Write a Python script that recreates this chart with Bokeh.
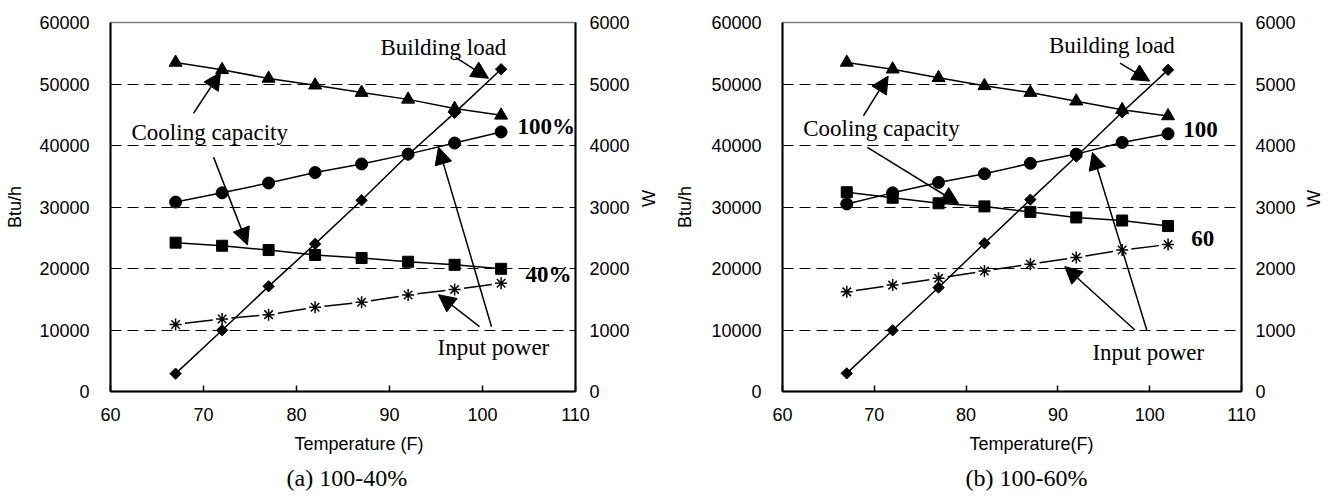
import numpy as np
from bokeh.plotting import figure
from bokeh.layouts import row
from bokeh.models import LinearAxis, Range1d, FixedTicker, Label, Arrow, NormalHead, Title
from bokeh.embed import file_html
from bokeh.resources import INLINE

# ---------------- data ----------------
temps = [67, 72, 77, 82, 87, 92, 97, 102]

# panel (a) 100-40%
cap100_a = [53500, 52300, 50900, 49800, 48600, 47500, 46000, 44900]   # Btu/h, triangles
pow100_a = [3080, 3230, 3390, 3560, 3700, 3860, 4040, 4220]           # W, circles
load_a = [2900, 9950, 17100, 24000, 31100, 38500, 45300, 52400]       # Btu/h, diamonds
cap40_a = [24200, 23700, 23000, 22200, 21700, 21100, 20600, 19950]    # Btu/h, squares
pow40_a = [1090, 1180, 1250, 1370, 1450, 1570, 1660, 1760]            # W, asterisks

# panel (b) 100-60%
cap100_b = [53500, 52400, 51000, 49700, 48600, 47200, 45800, 44800]
pow100_b = [3050, 3230, 3400, 3540, 3710, 3860, 4050, 4190]
load_b = [2950, 9950, 16900, 24100, 31200, 38200, 45400, 52300]
cap60_b = [32400, 31500, 30600, 30100, 29200, 28300, 27800, 26900]
pow60_b = [1620, 1730, 1840, 1960, 2070, 2180, 2300, 2390]

x_ticks = [60, 70, 80, 90, 100, 110]
btu_ticks = [0, 10000, 20000, 30000, 40000, 50000, 60000]
w_ticks = [0, 1000, 2000, 3000, 4000, 5000, 6000]
grid_ticks = [10000, 20000, 30000, 40000, 50000]

SANS = "Liberation Sans"
SERIF = "Liberation Serif"

panels = [
    dict(
        width=672, border_left=110, border_top=22, frame_h=370,
        ylab_standoff=11, wlab_standoff=16,
        cap_full=cap100_a, pow_full=pow100_a, load=load_a, cap_part=cap40_a, pow_part=pow40_a,
        xlabel="Temperature (F)", xlabel_offset=184,
        caption="(a) 100-40%", caption_offset=176,
        texts=[("Cooling capacity", 62.26, 42160, "normal"),
               ("Building load", 89.03, 55950, "normal"),
               ("100%", 103.76, 43130, "bold"),
               ("40%", 104.62, 18970, "bold"),
               ("Input power", 95.16, 7135, "normal")],
        arrows=[(68.93, 45240, 71.83, 51890),
                (71.08, 38110, 74.73, 23840),
                (97.10, 54320, 100.65, 50920),
                (100.97, 10540, 95.27, 39730),
                (99.68, 10540, 95.27, 15730)],
    ),
    dict(
        width=665, border_left=104, border_top=19, frame_h=372,
        ylab_standoff=13, wlab_standoff=15,
        cap_full=cap100_b, pow_full=pow100_b, load=load_b, cap_part=cap60_b, pow_part=pow60_b,
        xlabel="Temperature(F)", xlabel_offset=187,
        caption="(b) 100-60%", caption_offset=183,
        texts=[("Cooling capacity", 62.26, 42740, "normal"),
               ("Building load", 89.03, 56290, "normal"),
               ("100", 103.66, 42580, "bold"),
               ("60", 104.52, 24840, "bold"),
               ("Input power", 93.76, 6290, "normal")],
        arrows=[(68.82, 44840, 71.51, 51290),
                (69.25, 39680, 79.20, 30530),
                (96.77, 53390, 100.0, 50480),
                (99.68, 10000, 93.76, 38870),
                (98.39, 10000, 90.75, 20320)],
    ),
]

FIG_H = 497
FRAME_W = 465


def make_panel(cfg):
    border_bottom = FIG_H - cfg["border_top"] - cfg["frame_h"]
    border_right = cfg["width"] - cfg["border_left"] - FRAME_W
    p = figure(width=cfg["width"], height=FIG_H, output_backend="svg", toolbar_location=None,
               x_range=Range1d(60, 110), y_range=Range1d(0, 60000),
               min_border_left=cfg["border_left"], min_border_right=border_right,
               min_border_top=cfg["border_top"], min_border_bottom=border_bottom,
               background_fill_color="white", border_fill_color="white")
    p.extra_y_ranges = {"w": Range1d(0, 6000)}
    p.outline_line_color = "#808080"
    p.outline_line_width = 1.5

    # axes
    p.xaxis.ticker = FixedTicker(ticks=x_ticks)
    p.xaxis.major_tick_in = 6
    p.xaxis.major_tick_out = 0
    p.xaxis.minor_tick_line_color = None
    p.xaxis.major_label_standoff = 16
    p.yaxis.ticker = FixedTicker(ticks=btu_ticks)
    p.yaxis.major_tick_in = 0
    p.yaxis.major_tick_out = 0
    p.yaxis.minor_tick_line_color = None
    p.yaxis.major_label_standoff = 21
    p.yaxis.axis_label = "Btu/h"
    p.yaxis.axis_label_standoff = cfg["ylab_standoff"]
    p.yaxis.formatter.use_scientific = False

    wax = LinearAxis(y_range_name="w", ticker=FixedTicker(ticks=w_ticks), axis_label="W")
    wax.major_tick_in = 0
    wax.major_tick_out = 0
    wax.minor_tick_line_color = None
    wax.major_label_standoff = 14
    wax.axis_label_standoff = cfg["wlab_standoff"]
    wax.axis_label_orientation = np.pi / 2
    p.add_layout(wax, "right")

    for ax in list(p.xaxis) + list(p.yaxis) + [wax]:
        ax.axis_line_color = "black"
        ax.axis_line_width = 2
        ax.major_tick_line_color = "black"
        ax.major_tick_line_width = 1.5
        ax.major_label_text_font = SANS
        ax.major_label_text_font_size = "18px"
        ax.major_label_text_color = "black"
        ax.axis_label_text_font = SANS
        ax.axis_label_text_font_size = "18px"
        ax.axis_label_text_font_style = "normal"
        ax.axis_label_text_color = "black"

    # x-axis label and caption below the plot
    p.add_layout(Title(text=cfg["xlabel"], align="left", offset=cfg["xlabel_offset"],
                       vertical_align="middle", standoff=18, text_font=SANS,
                       text_font_size="18px", text_font_style="normal", text_color="black"),
                 "below")
    p.add_layout(Title(text=cfg["caption"], align="left", offset=cfg["caption_offset"],
                       vertical_align="middle", standoff=0, text_font=SERIF,
                       text_font_size="24px", text_font_style="normal", text_color="black"),
                 "below")

    # grid
    p.xgrid.visible = False
    p.ygrid.ticker = FixedTicker(ticks=grid_ticks)
    p.ygrid.grid_line_color = "black"
    p.ygrid.grid_line_width = 1
    p.ygrid.grid_line_dash = "11 6"

    # series
    p.line(temps, cfg["cap_full"], color="black", line_width=1.5)
    p.scatter(temps, cfg["cap_full"], marker="triangle", size=13, color="black")

    p.line(temps, cfg["pow_full"], color="black", line_width=1.5, y_range_name="w")
    p.scatter(temps, cfg["pow_full"], marker="circle", size=12, color="black", y_range_name="w")

    p.line(temps, cfg["cap_part"], color="black", line_width=1.5)
    p.scatter(temps, cfg["cap_part"], marker="square", size=11, color="black")

    p.line(temps, cfg["load"], color="black", line_width=1.5)
    p.scatter(temps, cfg["load"], marker="square", angle=np.pi / 4, size=8, color="black")

    t = np.array(temps, dtype=float)
    pw = np.array(cfg["pow_part"], dtype=float)
    f = 0.2
    dt, dp = np.diff(t), np.diff(pw)
    p.segment(t[:-1] + f * dt, pw[:-1] + f * dp, t[1:] - f * dt, pw[1:] - f * dp,
              color="black", line_width=1.5, y_range_name="w")
    p.scatter(temps, cfg["pow_part"], marker="asterisk", size=12, line_color="black",
              line_width=1.5, y_range_name="w")

    # annotations
    for (txt, x, y, style) in cfg["texts"]:
        p.add_layout(Label(x=x, y=y, text=txt, text_font=SERIF, text_font_size="23px",
                           text_font_style=style, text_baseline="middle", text_align="left",
                           text_color="black"))
    for (xs, ys, xe, ye) in cfg["arrows"]:
        p.add_layout(Arrow(end=NormalHead(size=17, fill_color="black", line_color="black"),
                           x_start=xs, y_start=ys, x_end=xe, y_end=ye,
                           line_color="black", line_width=1.5))
    return p


figs = [make_panel(c) for c in panels]
layout = row(*figs, spacing=0)
open("out.html", "w").write(file_html(layout, INLINE))
